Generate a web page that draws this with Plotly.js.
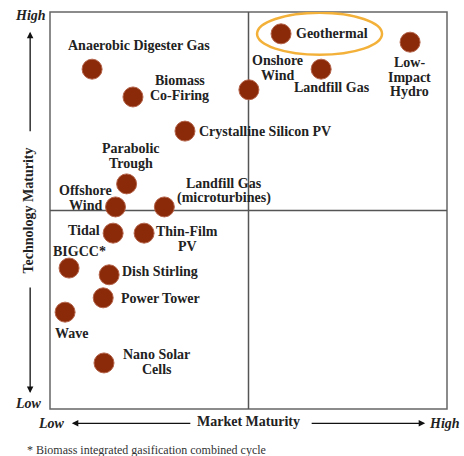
<!DOCTYPE html>
<html>
<head>
<meta charset="utf-8">
<script src="https://cdn.plot.ly/plotly-3.0.1.min.js"></script>
<style>html,body{margin:0;padding:0;background:#fff;}#chart{width:464px;height:456px;}</style>
</head>
<body>
<div id="chart"></div>
<script>
// Technologies (labels use <br> for line breaks as in the original)
const technologies = [
  "Anaerobic Digester Gas", "Biomass<br>Co-Firing", "Crystalline Silicon PV",
  "Parabolic<br>Trough", "Offshore<br>Wind", "Landfill Gas<br>(microturbines)",
  "Onshore<br>Wind", "Geothermal", "Landfill Gas", "Low-<br>Impact<br>Hydro",
  "Tidal", "Thin-Film<br>PV", "BIGCC*", "Dish Stirling", "Power Tower",
  "Wave", "Nano Solar<br>Cells"
];
// Market maturity (0 = low, 10 = high)
const marketMaturity = [1.06, 2.09, 3.40, 1.93, 1.65, 2.88, 5.01, 5.82, 6.83, 9.07, 1.59, 2.37, 0.48, 1.49, 1.34, 0.38, 1.36];
// Technology maturity (0 = low, 10 = high)
const technologyMaturity = [8.56, 7.86, 7.00, 5.67, 5.09, 5.09, 8.04, 9.45, 8.56, 9.24, 4.43, 4.43, 3.55, 3.38, 2.80, 2.44, 1.16];
const highlighted = "Geothermal";
const footnote = "* Biomass integrated gasification combined cycle";

// label placement (pixels relative to point) — style only
const labelAnchor = ["center","center","left","center","center","center","center","left","center","center","right","center","center","left","left","center","center"];
const labelDx = [47, 47, 12, 4, -30, 60, 29, 13, 11, -1, -11, 43, 10, 11, 16, 6, 53];
const labelDy = [24, 9, 0, 28, 9, 16, 22, 0, -18, -35, 3, -6, 17, 3, -1, -21, 1];
const lineGap = 14.5;

const serif = "Liberation Serif, DejaVu Serif, serif";
const textColor = "#222";
const fs = 14;

const labelAnnotations = [];
technologies.forEach((t, i) => {
  const lines = t.split("<br>");
  const n = lines.length;
  lines.forEach((ln, k) => {
    labelAnnotations.push({
      x: marketMaturity[i], y: technologyMaturity[i], xref: "x", yref: "y",
      text: "<b>" + ln + "</b>", showarrow: false,
      xanchor: labelAnchor[i], yanchor: "middle", align: "center",
      xshift: labelDx[i], yshift: labelDy[i] + ((n - 1) / 2 - k) * lineGap,
      font: {family: serif, size: fs, color: textColor}
    });
  });
});

const gi = technologies.indexOf(highlighted);

const arrowStyle = {showarrow: true, arrowhead: 2, arrowsize: 1, arrowwidth: 1.3, arrowcolor: "#111", text: "", axref: "pixel", ayref: "pixel"};
const endFont = {family: serif, size: fs, color: textColor};

const extraAnnotations = [
  {xref: "paper", yref: "paper", x: -0.048, y: 0.992, xanchor: "center", yanchor: "middle", text: "<b><i>High</i></b>", showarrow: false, font: endFont},
  {xref: "paper", yref: "paper", x: -0.055, y: 0.015, xanchor: "center", yanchor: "middle", text: "<b><i>Low</i></b>", showarrow: false, font: endFont},
  {xref: "paper", yref: "paper", x: 0.005, y: -0.036, xanchor: "center", yanchor: "middle", text: "<b><i>Low</i></b>", showarrow: false, font: endFont},
  {xref: "paper", yref: "paper", x: 0.993, y: -0.036, xanchor: "center", yanchor: "middle", text: "<b><i>High</i></b>", showarrow: false, font: endFont},
  Object.assign({xref: "paper", yref: "paper", x: -0.05, y: 0.95, ax: 0, ay: 101}, arrowStyle),
  Object.assign({xref: "paper", yref: "paper", x: -0.05, y: 0.04, ax: 0, ay: -107}, arrowStyle),
  Object.assign({xref: "paper", yref: "paper", x: 0.055, y: -0.036, ax: 120, ay: 0}, arrowStyle),
  Object.assign({xref: "paper", yref: "paper", x: 0.945, y: -0.036, ax: -115, ay: 0}, arrowStyle),
  {xref: "paper", yref: "paper", x: -0.063, y: -0.103, xanchor: "left", yanchor: "middle", text: footnote, showarrow: false, font: {family: serif, size: 12, color: "#333"}}
];

const trace = {
  type: "scatter", mode: "markers",
  x: marketMaturity, y: technologyMaturity,
  text: technologies,
  hoverinfo: "text",
  marker: {size: 20, color: "#8a2a08", line: {width: 1, color: "#b4634a"}},
  cliponaxis: false
};

const layout = {
  width: 464, height: 456,
  margin: {l: 50, r: 17, t: 12, b: 47},
  paper_bgcolor: "#fff", plot_bgcolor: "#fff",
  showlegend: false,
  xaxis: {range: [0, 10], showgrid: false, zeroline: false, showticklabels: false, ticks: "", showline: false,
    title: {text: "<b>Market Maturity</b>", standoff: 7, font: {family: serif, size: fs, color: textColor}}, automargin: false, fixedrange: true},
  yaxis: {range: [0, 10], showgrid: false, zeroline: false, showticklabels: false, ticks: "", showline: false,
    title: {text: "<b>Technology Maturity</b>", standoff: 12, font: {family: serif, size: fs, color: textColor}}, automargin: false, fixedrange: true},
  shapes: [
    {type: "rect", xref: "paper", yref: "paper", x0: 0, x1: 1, y0: 0, y1: 1, line: {color: "#666", width: 1.5}, layer: "below"},
    {type: "line", xref: "x", yref: "paper", x0: 5, x1: 5, y0: 0, y1: 1, line: {color: "#555", width: 1.5}, layer: "below"},
    {type: "line", xref: "paper", yref: "y", x0: 0, x1: 1, y0: 5, y1: 5, line: {color: "#555", width: 1.5}, layer: "below"},
    {type: "circle", xref: "x", yref: "y", xsizemode: "pixel", ysizemode: "pixel",
      xanchor: marketMaturity[gi], yanchor: technologyMaturity[gi],
      x0: -24, x1: 101, y0: -21, y1: 21, line: {color: "#f3b13a", width: 2.5}, layer: "above"}
  ],
  annotations: labelAnnotations.concat(extraAnnotations),
  font: {family: serif}
};

Plotly.newPlot("chart", [trace], layout, {displayModeBar: false, staticPlot: true});
</script>
</body>
</html>
